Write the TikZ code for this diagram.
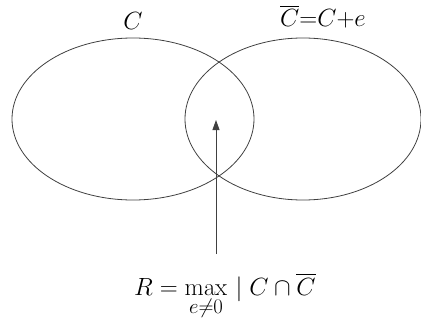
\documentclass[tikz,border=0pt]{standalone}
\usepackage{amsmath}
\usetikzlibrary{positioning, shapes.geometric, arrows.meta}
\def\setW{242pt}
\def\setH{162pt}
\def\labelSize{\fontsize{24.88}{30}\selectfont}
\tikzset{
  codeset/.style={
    ellipse,
    draw=black!75,
    line width=0.8pt,
    minimum width=\setW,
    minimum height=\setH,
    inner sep=0pt
  },
  setlabel/.style={anchor=base, inner sep=0pt, font=\labelSize},
  pointer/.style={draw=black!75, line width=0.9pt, -{Triangle[length=10pt,width=7pt]}}
}

\begin{document}
\begin{tikzpicture}[x=1pt, y=-1pt]
  \useasboundingbox (0,0) rectangle (421,324);

  \node[codeset] (code) at (133,119) {};
  \node[codeset, minimum width=236pt] (shifted) at (303,119) {};

  \node[setlabel] (codelbl) at (133,29) {$C$};
  \node[setlabel] (shiftlbl) at (323,27) {$\overline{C}{=}C{+}e$};

  \node[anchor=base west, inner sep=0pt, font=\labelSize] (rate) at (134,295)
    {$\displaystyle R = \max_{e\neq 0}\, |\; C \cap \overline{C}$};

  \coordinate (tail) at (216,254);
  \coordinate (overlap) at (216,120);
  \draw[pointer] (tail) -- (overlap);
\end{tikzpicture}
\end{document}
